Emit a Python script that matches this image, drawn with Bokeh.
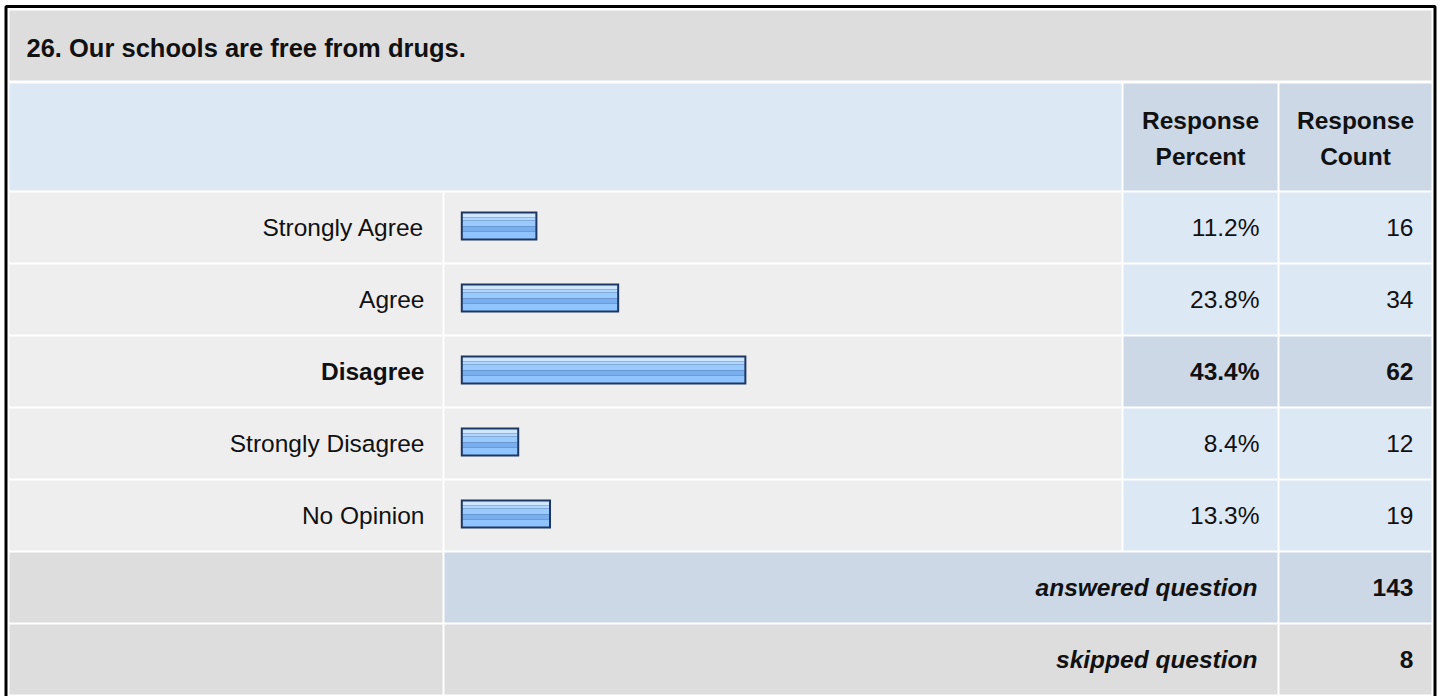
from bokeh.plotting import figure
from bokeh.models import Range1d, ColumnDataSource
from bokeh.core.properties import value
from bokeh.embed import file_html
from bokeh.resources import INLINE

# ---------------- data ----------------
title = "26. Our schools are free from drugs."
answers = ["Strongly Agree", "Agree", "Disagree", "Strongly Disagree", "No Opinion"]
percents = [11.2, 23.8, 43.4, 8.4, 13.3]
counts = [16, 34, 62, 12, 19]
header_percent = ["Response", "Percent"]
header_count = ["Response", "Count"]
summary_labels = ["answered question", "skipped question"]
summary_counts = [143, 8]

# ---------------- style / layout ----------------
W, H = 1440, 696
FONT = value("Liberation Sans")
FS = value("24.5px")
GRAY = "#dddddd"
LIGHT = "#eeeeee"
BLUE = "#dde8f5"
BLUE2 = "#ccd8e6"
NAVY = "#1d3763"
TXT = "#111111"
DY = -9  # baseline correction of the svg text

C_LABEL = (9, 442)
C_BAR = (444, 1121)
C_PCT = (1123, 1277)
C_CNT = (1279, 1431)
TITLE_Y = (10, 80)
HEAD_Y = (83, 190)
ROW0, ROW_H, ROW_STEP = 192, 70, 72
BAR_ZERO, PX_PER_PCT = 464.2, 6.49

p = figure(width=W, height=H, x_range=Range1d(0, W), y_range=Range1d(H, 0),
           output_backend="svg", toolbar_location=None,
           x_axis_type=None, y_axis_type=None, min_border=0,
           outline_line_color=None, background_fill_color="white",
           border_fill_color="white")
p.styles = {"position": "absolute", "left": "0px", "top": "0px"}
p.extra_x_ranges = {"pct": Range1d(-BAR_ZERO / PX_PER_PCT, (W - BAR_ZERO) / PX_PER_PCT)}

imax = percents.index(max(percents))

# ---------------- cells ----------------
L, R, T, B, C = [], [], [], [], []
def cell(x, y, c):
    L.append(x[0]); R.append(x[1]); T.append(y[0]); B.append(y[1]); C.append(c)

cell((C_LABEL[0], C_CNT[1]), TITLE_Y, GRAY)
cell((C_LABEL[0], C_BAR[1]), HEAD_Y, BLUE)
cell(C_PCT, HEAD_Y, BLUE2)
cell(C_CNT, HEAD_Y, BLUE2)
row_centers = []
for i in range(len(answers)):
    y = (ROW0 + i * ROW_STEP, ROW0 + i * ROW_STEP + ROW_H)
    row_centers.append((y[0] + y[1]) / 2)
    cell(C_LABEL, y, LIGHT)
    cell(C_BAR, y, LIGHT)
    c = BLUE2 if i == imax else BLUE
    cell(C_PCT, y, c)
    cell(C_CNT, y, c)
sum_centers = []
for j in range(len(summary_labels)):
    k = len(answers) + j
    y = (ROW0 + k * ROW_STEP, ROW0 + k * ROW_STEP + ROW_H)
    sum_centers.append((y[0] + y[1]) / 2)
    mid = BLUE2 if j == 0 else GRAY
    cell(C_LABEL, y, GRAY)
    cell((C_BAR[0], C_PCT[1]), y, mid)
    cell(C_CNT, y, mid)

p.quad(left=L, right=R, top=T, bottom=B, fill_color=C, line_color=None)

# outer black frame
p.quad(left=[5.5], right=[1434.5], top=[6], bottom=[699], fill_color=None,
       line_color="black", line_width=3)

# ---------------- bars ----------------
tops = [ROW0 + i * ROW_STEP + 19 for i in range(len(answers))]
bars = ColumnDataSource(dict(l=[-0.6] * len(percents), r=percents,
                             t=tops, b=[t + 29 for t in tops]))
p.quad(left="l", right="r", top="t", bottom="b", source=bars,
       fill_color=NAVY, line_color=None, x_range_name="pct")
stripes = [(2, 6, "#cfe6ff"), (6, 9, "#b2d7ff"), (9, 15, "#9acbff"),
           (15, 20, "#7aafef"), (20, 27, "#8fc4ff")]
inset = 2.0 / PX_PER_PCT
for a, b_, col in stripes:
    p.quad(left=[-0.6 + inset] * len(percents), right=[v - inset for v in percents],
           top=[t + a for t in tops], bottom=[t + b_ for t in tops],
           fill_color=col, line_color=None, x_range_name="pct")

# ---------------- texts ----------------
p.text(x=[26], y=[56 + DY], text=[title], text_font=FONT, text_font_size=value("25.5px"),
       text_font_style="bold", text_color=TXT, text_align="left",
       text_baseline="alphabetic")

for hdr, col in ((header_percent, C_PCT), (header_count, C_CNT)):
    cx = (col[0] + col[1]) / 2
    p.text(x=[cx, cx], y=[128.5 + DY, 165 + DY], text=hdr, text_font=FONT, text_font_size=FS,
           text_font_style="bold", text_color=TXT, text_align="center",
           text_baseline="alphabetic")

for i, (a, pc, n) in enumerate(zip(answers, percents, counts)):
    st = "bold" if i == imax else "normal"
    yb = row_centers[i] + 8.5 + DY
    p.text(x=[424], y=[yb], text=[a], text_font=FONT, text_font_size=FS,
           text_font_style=st, text_color=TXT, text_align="right",
           text_baseline="alphabetic")
    p.text(x=[C_PCT[1] - 18, C_CNT[1] - 18], y=[yb, yb],
           text=[f"{pc:.1f}%", str(n)], text_font=FONT, text_font_size=FS,
           text_font_style=st, text_color=TXT, text_align="right",
           text_baseline="alphabetic")

for j, (lab, n) in enumerate(zip(summary_labels, summary_counts)):
    yb = sum_centers[j] + 9 + DY
    p.text(x=[C_PCT[1] - 20], y=[yb], text=[lab], text_font=FONT, text_font_size=FS,
           text_font_style="bold italic", text_color=TXT, text_align="right",
           text_baseline="alphabetic")
    p.text(x=[C_CNT[1] - 18], y=[yb], text=[str(n)], text_font=FONT,
           text_font_size=FS, text_font_style="bold", text_color=TXT,
           text_align="right", text_baseline="alphabetic")

open("out.html", "w").write(file_html(p, INLINE))
